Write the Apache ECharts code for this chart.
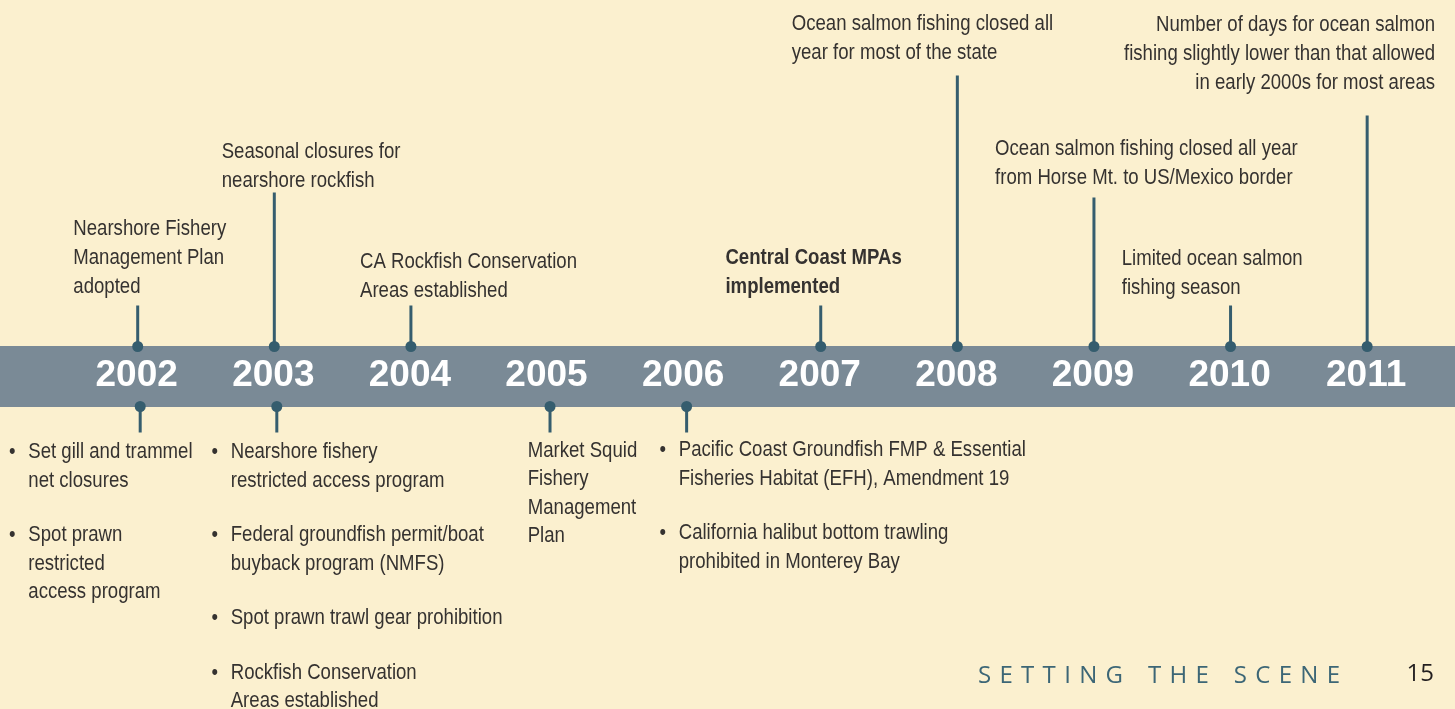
<!DOCTYPE html>
<html>
<head>
<meta charset="utf-8">
<title>Timeline 2002-2011</title>
<script src="https://cdn.jsdelivr.net/npm/echarts@6/dist/echarts.min.js"></script>
<style>
	html, body { margin: 0; padding: 0; background: #fbf0cf; }
	#chart { width: 1455px; height: 709px; }
</style>
</head>
<body>
<div id="chart"></div>
<script>
var years = [2002, 2003, 2004, 2005, 2006, 2007, 2008, 2009, 2010, 2011];

// events above the band
var topYears = [2002, 2003, 2004, 2007, 2008, 2009, 2010, 2011];
var topStemLengths = [41, 154, 41, 41, 271, 149, 41, 231];
var topNotes = [
	['Nearshore Fishery', 'Management Plan', 'adopted'],
	['Seasonal closures for', 'nearshore rockfish'],
	['CA Rockfish Conservation', 'Areas established'],
	['Central Coast MPAs', 'implemented'],
	['Ocean salmon fishing closed all', 'year for most of the state'],
	['Ocean salmon fishing closed all year', 'from Horse Mt. to US/Mexico border'],
	['Limited ocean salmon', 'fishing season'],
	['Number of days for ocean salmon', 'fishing slightly lower than that allowed', 'in early 2000s for most areas']
];

// events below the band
var bottomYears = [2002, 2003, 2005, 2006];
var bottomStemLengths = [26, 26, 26, 26];
var bottomNotes = [
	[['Set gill and trammel', 'net closures'], ['Spot prawn', 'restricted', 'access program']],
	[['Nearshore fishery', 'restricted access program'], ['Federal groundfish permit/boat', 'buyback program (NMFS)'], ['Spot prawn trawl gear prohibition'], ['Rockfish Conservation', 'Areas established']],
	[['Market Squid', 'Fishery', 'Management', 'Plan']],
	[['Pacific Coast Groundfish FMP & Essential', 'Fisheries Habitat (EFH), Amendment 19'], ['California halibut bottom trawling', 'prohibited in Monterey Bay']]
];
var bottomBullets = [true, true, false, true];

var footerText = 'SETTING THE SCENE';
var pageNumber = '15';


// ---- layout (pixels; y measured from the band centre) ----
// [dx of text from stem, first baseline, align, bold]
var topNoteLayout = [
	[-64.4, -139.8, 'left', false],
	[-52.6, -217.2, 'left', false],
	[-50.9, -106.5, 'left', false],
	[-95.3, -110.5, 'left', true],
	[-165.6, -344.8, 'left', false],
	[-98.9, -219.8, 'left', false],
	[-108.8, -109.8, 'left', false],
	[67.9, -344.2, 'right', false]
];
// [dx of text from stem, first baseline]
var bottomNoteLayout = [
	[-109.4, 83.5],
	[-43.6, 83.5],
	[-19.8, 81.8],
	[-5.4, 81.5]
];

var colors = {
	bg: '#fbf0cf',
	band: '#7a8a96',
	stem: '#355d6e',
	text: '#353230',
	footer: '#3c6676',
	page: '#231f20'
};

// no narrow face is installed, so Liberation Sans is squeezed to narrow proportions
var bodyFont = '"Liberation Sans", Arial, sans-serif';
var bodySize = 22;
var narrow = 0.845;
var topLineHeight = 29;
var bottomLineHeight = 28.5;
var paragraphGap = 26;
var bandHalf = 30;
var bulletIndent = 16;


var chart = echarts.init(document.getElementById('chart'));

function baselineToTop(baseline, lineHeight) {
	return baseline - bodySize * 0.35 - lineHeight / 2;
}

function bodyText(x, y, text, align, lineHeight, bold) {
	return {
		type: 'text',
		x: x,
		y: y,
		scaleX: narrow,
		style: {
			text: text,
			fontFamily: bodyFont,
			fontSize: bodySize,
			fontWeight: bold ? 'bold' : 'normal',
			fill: colors.text,
			align: align,
			verticalAlign: 'top',
			lineHeight: lineHeight
		}
	};
}

function renderStem(params, api) {
	var side = api.value(2);
	var shift = side > 0 ? 2.5 : 0;
	var dot = api.coord([api.value(0), side * bandHalf]);
	var end = api.coord([api.value(0), side * (bandHalf + api.value(1))]);
	return {
		type: 'group',
		children: [
			{
				type: 'line',
				shape: { x1: dot[0] + shift, y1: dot[1], x2: end[0] + shift, y2: end[1] },
				style: { stroke: colors.stem, lineWidth: 3 }
			},
			{
				type: 'circle',
				shape: { cx: dot[0] + shift, cy: dot[1], r: 5.5 },
				style: { fill: colors.stem }
			}
		]
	};
}

function renderYear(params, api) {
	var p = api.coord([api.value(0), -1]);
	return {
		type: 'text',
		x: p[0] - 1,
		y: p[1],
		style: {
			text: String(years[params.dataIndex]),
			fontFamily: '"Liberation Sans", Arial, sans-serif',
			fontWeight: 'bold',
			fontSize: 37,
			fill: '#ffffff',
			align: 'center',
			verticalAlign: 'middle'
		}
	};
}

function renderTopNote(params, api) {
	var i = params.dataIndex;
	var lay = topNoteLayout[i];
	var p = api.coord([api.value(0), 0]);
	var top = p[1] + baselineToTop(lay[1], topLineHeight);
	return bodyText(p[0] + lay[0], top, topNotes[i].join('\n'), lay[2], topLineHeight, lay[3]);
}

function renderBottomNote(params, api) {
	var i = params.dataIndex;
	var lay = bottomNoteLayout[i];
	var p = api.coord([api.value(0), 0]);
	var x = p[0] + lay[0];
	var y = p[1] + baselineToTop(lay[1], bottomLineHeight);
	var children = [];
	bottomNotes[i].forEach(function (para) {
		if (bottomBullets[i]) {
			children.push(bodyText(x - bulletIndent, y, '\u2022', 'center', bottomLineHeight, false));
		}
		children.push(bodyText(x, y, para.join('\n'), 'left', bottomLineHeight, false));
		y += para.length * bottomLineHeight + paragraphGap;
	});
	return { type: 'group', children: children };
}

// letter-spaced running head built from rich tokens
function spacedRich(str) {
	var out = [];
	str.split(' ').forEach(function (word, w) {
		if (w > 0) out.push('{s| }{s| }{s| }');
		out.push(word.split('').map(function (ch) { return '{l|' + ch + '}'; }).join('{s| }'));
	});
	return out.join('');
}

var stemData = [];
topYears.forEach(function (y, i) { stemData.push([y, topStemLengths[i], -1]); });
bottomYears.forEach(function (y, i) { stemData.push([y, bottomStemLengths[i], 1]); });

var option = {
	backgroundColor: colors.bg,
	animation: false,
	grid: { left: 0, right: 0, top: 0, bottom: 0, containLabel: false, outerBoundsMode: 'none' },
	xAxis: {
		type: 'value',
		min: 2000.992,
		max: 2011.643,
		axisLine: {
			show: true,
			onZero: true,
			lineStyle: { color: colors.band, width: 61, cap: 'butt' }
		},
		axisTick: { show: false },
		splitLine: { show: false },
		axisLabel: { show: false }
	},
	yAxis: {
		type: 'value',
		inverse: true,
		min: -376.5,
		max: 332.5,
		axisLine: { show: false },
		axisTick: { show: false },
		axisLabel: { show: false },
		splitLine: { show: false }
	},
	graphic: [
		{
			type: 'text',
			right: 115,
			top: 660,
			style: {
				text: spacedRich(footerText),
				rich: {
					l: { fontFamily: '"Open Sans", sans-serif', fontSize: 24, fill: colors.footer, color: colors.footer },
					s: { fontFamily: '"Open Sans", sans-serif', fontSize: 32 }
				}
			}
		},
		{
			type: 'text',
			right: 21,
			top: 662,
			style: {
				text: pageNumber,
				font: '24px "Open Sans", sans-serif',
				fill: colors.page
			}
		}
	],
	series: [
		{
			type: 'custom',
			name: 'stems',
			silent: true,
			renderItem: renderStem,
			data: stemData
		},
		{
			type: 'custom',
			name: 'years',
			silent: true,
			renderItem: renderYear,
			data: years.map(function (y) { return [y, 0]; })
		},
		{
			type: 'custom',
			name: 'topNotes',
			silent: true,
			renderItem: renderTopNote,
			data: topYears.map(function (y) { return [y, 0]; })
		},
		{
			type: 'custom',
			name: 'bottomNotes',
			silent: true,
			renderItem: renderBottomNote,
			data: bottomYears.map(function (y) { return [y, 0]; })
		}
	]
};

chart.setOption(option);
</script>
</body>
</html>
